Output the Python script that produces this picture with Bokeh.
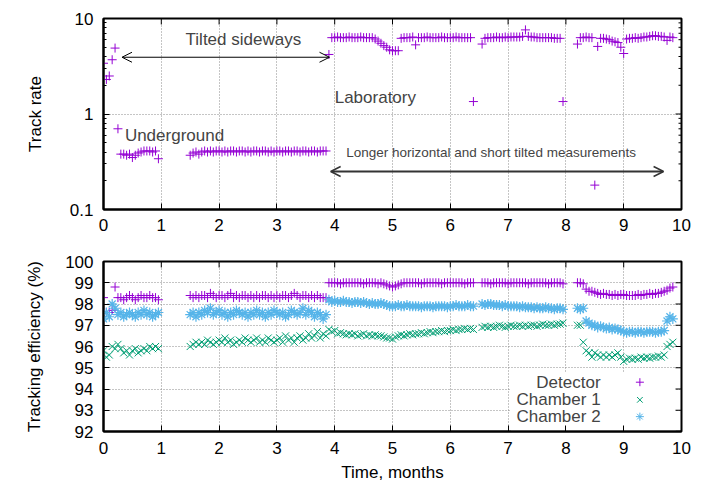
import math
from bokeh.plotting import figure
from bokeh.layouts import column
from bokeh.models import (Range1d, FixedTicker, Label, Arrow, OpenHead, BoxAnnotation,
                          ColumnDataSource, CustomJSTickFormatter)
from bokeh.embed import file_html
from bokeh.resources import INLINE

# ---------------- data ----------------
seg_starts = [0.00, 1.50, 3.90, 6.55, 8.20]
seg_step = 0.05

rate_a = [3.4, 2.3, 2.5, 3.7, 4.9, 0.70, 0.38, 0.38, 0.37, 0.38,
          0.35, 0.37, 0.39, 0.40, 0.41, 0.41, 0.41, 0.40, 0.41, 0.34]
rate_b = [0.37, 0.39, 0.40, 0.38, 0.40, 0.41, 0.40, 0.41, 0.40, 0.41,
          0.41, 0.40, 0.41, 0.40, 0.41, 0.41, 0.40, 0.41, 0.41, 0.40,
          0.41, 0.40, 0.41, 0.41, 0.40, 0.41, 0.41, 0.40, 0.41, 0.40,
          0.41, 0.41, 0.40, 0.41, 0.41, 0.40, 0.41, 0.41, 0.40, 0.41,
          0.41, 0.40, 0.41, 0.41, 0.40, 0.41, 0.41, 0.41]
rate_c = [4.2, 6.3, 6.3, 6.4, 6.3, 6.3, 6.3, 6.4, 6.3, 6.3,
          6.3, 6.4, 6.3, 6.3, 6.3, 6.3, 6.1, 5.8, 5.5, 5.2,
          5.0, 4.7, 4.6, 4.6, 4.6, 6.2, 6.3, 6.3, 6.3, 6.4,
          5.3, 6.3, 6.3, 6.3, 6.4, 6.3, 6.3, 6.3, 6.3, 6.4,
          6.3, 6.3, 6.3, 6.3, 6.4, 6.3, 6.3, 6.3, 6.3, 6.3,
          1.35]
rate_d = [5.4, 6.2, 6.3, 6.3, 6.3, 6.4, 6.3, 6.3, 6.4, 6.3,
          6.4, 6.4, 6.4, 6.4, 6.5, 7.6, 6.5, 6.4, 6.4, 6.3,
          6.3, 6.3, 6.3, 6.3, 6.3, 6.2, 6.2, 6.2, 1.35]
rate_e = [5.4, 6.3, 6.3, 6.4, 6.3, 6.3, 0.18, 5.1, 6.2, 6.2,
          6.1, 6.0, 5.8, 5.7, 5.6, 5.0, 4.3, 6.1, 6.2, 6.2,
          6.3, 6.2, 6.3, 6.4, 6.4, 6.5, 6.6, 6.6, 6.5, 6.5,
          6.4, 5.9, 6.4, 6.3]

det_a = [98.3, 97.6, 97.6, 97.7, 98.8, 98.3, 98.3, 98.2, 98.3, 98.4,
         98.3, 98.2, 98.3, 98.4, 98.3, 98.3, 98.4, 98.3, 98.3, 98.2]
det_b = [98.4, 98.3, 98.4, 98.3, 98.4, 98.4, 98.3, 98.5, 98.4, 98.3,
         98.4, 98.4, 98.3, 98.4, 98.5, 98.3, 98.4, 98.3, 98.4, 98.4,
         98.3, 98.4, 98.3, 98.4, 98.3, 98.4, 98.4, 98.3, 98.4, 98.3,
         98.4, 98.3, 98.4, 98.4, 98.3, 98.4, 98.5, 98.4, 98.3, 98.4,
         98.4, 98.3, 98.4, 98.3, 98.4, 98.3, 98.3, 98.3]
det_c = [99.0, 99.0, 99.0, 99.0, 98.95, 99.0, 99.0, 99.0, 99.0, 99.0,
         99.0, 99.0, 98.95, 99.0, 99.0, 99.0, 99.0, 98.95, 99.0, 98.95,
         98.9, 98.85, 98.8, 98.85, 98.9, 98.95, 99.0, 99.0, 99.0, 99.0,
         99.0, 99.0, 98.95, 99.0, 99.0, 99.0, 99.0, 99.0, 99.0, 98.95,
         99.0, 99.0, 99.0, 99.0, 99.0, 99.0, 99.0, 98.95, 99.0, 99.0,
         99.0]
det_d = [99.0, 99.0, 99.0, 98.95, 99.0, 99.0, 99.0, 99.0, 99.0, 98.95,
         99.0, 99.0, 99.0, 99.0, 99.0, 99.0, 98.95, 99.0, 99.0, 99.0,
         99.0, 99.0, 99.0, 98.95, 99.0, 99.0, 99.0, 99.0, 98.95]
det_e = [99.0, 99.0, 98.95, 98.7, 98.6, 98.6, 98.55, 98.5, 98.45, 98.5,
         98.45, 98.45, 98.4, 98.45, 98.4, 98.45, 98.45, 98.4, 98.4, 98.4,
         98.4, 98.45, 98.4, 98.45, 98.45, 98.5, 98.45, 98.5, 98.5, 98.55,
         98.6, 98.65, 98.75, 98.8]

ch1_a = [95.8, 95.5, 95.6, 96.0, 95.9, 96.1, 95.9, 95.7, 95.8, 95.6,
         95.8, 95.9, 95.7, 95.8, 95.9, 95.8, 96.0, 95.9, 96.0, 95.9]
ch1_b = [96.0, 96.1, 96.2, 96.1, 96.2, 96.1, 96.3, 96.2, 96.1, 96.2,
         96.3, 96.2, 96.4, 96.2, 96.3, 96.1, 96.2, 96.3, 96.2, 96.4,
         96.3, 96.2, 96.3, 96.4, 96.2, 96.3, 96.2, 96.4, 96.3, 96.2,
         96.3, 96.4, 96.2, 96.5, 96.3, 96.4, 96.2, 96.4, 96.5, 96.3,
         96.4, 96.6, 96.4, 96.5, 96.7, 96.4, 96.6, 96.5]
ch1_c = [96.8, 96.7, 96.75, 96.6, 96.65, 96.6, 96.55, 96.6, 96.55, 96.6,
         96.5, 96.55, 96.6, 96.5, 96.55, 96.5, 96.55, 96.5, 96.5, 96.45,
         96.4, 96.4, 96.35, 96.45, 96.5, 96.55, 96.5, 96.55, 96.6, 96.55,
         96.6, 96.6, 96.65, 96.6, 96.65, 96.7, 96.65, 96.7, 96.7, 96.75,
         96.7, 96.75, 96.75, 96.8, 96.75, 96.8, 96.8, 96.85, 96.8, 96.85,
         96.8]
ch1_d = [96.9, 96.95, 96.9, 96.95, 96.9, 96.95, 97.0, 96.95, 96.9, 96.95,
         97.0, 96.95, 96.95, 97.0, 96.95, 97.0, 96.95, 97.0, 97.0, 96.95,
         97.0, 97.05, 97.0, 97.0, 97.05, 97.0, 97.05, 97.05, 97.1]
ch1_e = [97.0, 97.0, 96.2, 95.8, 95.7, 95.5, 95.7, 95.6, 95.5, 95.6,
         95.5, 95.6, 95.5, 95.6, 95.7, 95.5, 95.3, 95.4, 95.45, 95.4,
         95.45, 95.4, 95.5, 95.45, 95.5, 95.45, 95.5, 95.5, 95.55, 95.5,
         95.6, 96.0, 96.1, 96.2]

ch2_a = [97.3, 97.6, 97.4, 98.0, 97.8, 97.5, 97.6, 97.4, 97.5, 97.6,
         97.5, 97.4, 97.6, 97.5, 97.7, 97.5, 97.6, 97.4, 97.5, 97.6]
ch2_b = [97.5, 97.6, 97.4, 97.6, 97.5, 97.7, 97.6, 97.8, 97.5, 97.6,
         97.7, 97.5, 97.6, 97.4, 97.6, 97.5, 97.7, 97.6, 97.5, 97.6,
         97.4, 97.6, 97.5, 97.7, 97.5, 97.6, 97.4, 97.6, 97.5, 97.7,
         97.6, 97.5, 97.6, 97.4, 97.5, 97.7, 97.6, 97.5, 97.6, 97.8,
         97.5, 97.7, 97.6, 97.4, 97.6, 97.5, 97.3, 97.5]
ch2_c = [98.2, 98.1, 98.15, 98.1, 98.1, 98.15, 98.1, 98.1, 98.05, 98.1,
         98.1, 98.05, 98.1, 98.05, 98.0, 98.05, 98.0, 98.0, 98.05, 98.0,
         97.95, 97.9, 97.9, 97.9, 97.95, 97.9, 97.9, 97.95, 97.9, 97.9,
         97.9, 97.9, 97.85, 97.9, 97.9, 97.9, 97.85, 97.9, 97.9, 97.9,
         97.9, 97.85, 97.9, 97.9, 97.95, 97.9, 97.9, 97.9, 97.95, 97.9,
         97.9]
ch2_d = [98.0, 97.95, 98.0, 98.0, 97.95, 97.95, 97.95, 97.9, 97.95, 97.9,
         97.9, 97.9, 97.9, 97.85, 97.9, 97.85, 97.85, 97.85, 97.8, 97.85,
         97.8, 97.8, 97.85, 97.8, 97.8, 97.75, 97.8, 97.8, 97.75]
ch2_e = [97.8, 97.75, 97.8, 97.2, 97.1, 97.0, 97.0, 96.9, 96.95, 96.9,
         96.85, 96.9, 96.8, 96.85, 96.8, 96.75, 96.7, 96.65, 96.7, 96.7,
         96.65, 96.7, 96.7, 96.65, 96.7, 96.7, 96.7, 96.65, 96.7, 96.7,
         96.75, 97.2, 97.4, 97.3]

x_ticks = [0, 1, 2, 3, 4, 5, 6, 7, 8, 9, 10]
rate_ticks = [0.1, 1, 10]
rate_minor = [0.2, 0.3, 0.4, 0.5, 0.6, 0.7, 0.8, 0.9, 2, 3, 4, 5, 6, 7, 8, 9]
eff_ticks = [92, 93, 94, 95, 96, 97, 98, 99, 100]
legend_names = ["Detector", "Chamber 1", "Chamber 2"]

# ---------------- assemble ----------------
rate_segs = [rate_a, rate_b, rate_c, rate_d, rate_e]
t = []
for s, seg in zip(seg_starts, rate_segs):
    t += [round(s + seg_step * i, 3) for i in range(len(seg))]
rate = sum(rate_segs, [])
det = det_a + det_b + det_c + det_d + det_e
ch1 = ch1_a + ch1_b + ch1_c + ch1_d + ch1_e
ch2 = ch2_a + ch2_b + ch2_c + ch2_d + ch2_e
src = ColumnDataSource(dict(t=t, rate=rate, det=det, ch1=ch1, ch2=ch2))

PURPLE = "#9400d3"
GREEN = "#009e73"
BLUE = "#56b4e9"
FONT = "Liberation Sans"
FS = "17px"


def style_axis(ax):
    ax.axis_line_width = 2
    ax.axis_line_color = "black"
    ax.major_tick_in = 6
    ax.major_tick_out = 0
    ax.minor_tick_in = 3
    ax.minor_tick_out = 0
    ax.major_tick_line_color = "black"
    ax.minor_tick_line_color = "black"
    ax.major_label_text_font = FONT
    ax.major_label_text_font_size = FS
    ax.major_label_text_color = "black"
    ax.axis_label_text_font = FONT
    ax.axis_label_text_font_style = "normal"
    ax.axis_label_text_font_size = FS
    ax.axis_label_text_color = "black"


def style_fig(p):
    p.outline_line_color = "black"
    p.outline_line_width = 2
    p.outline_line_alpha = 1
    p.background_fill_color = "white"
    p.border_fill_color = "white"
    p.grid.grid_line_color = "#8a8a8a"
    p.grid.grid_line_dash = "1 2"
    p.grid.grid_line_width = 1


def mirror_ticks(p, xr, yr, xmaj, ymaj, ymin=None):
    # ticks on the top and right edges, pointing inwards (pixel lengths)
    p.ray(x=xmaj, y=[yr] * len(xmaj), length=6, length_units="screen",
          angle=-math.pi / 2, line_color="black", line_width=1)
    p.ray(x=[xr] * len(ymaj), y=ymaj, length=6, length_units="screen",
          angle=math.pi, line_color="black", line_width=1)
    if ymin:
        p.ray(x=[xr] * len(ymin), y=ymin, length=3, length_units="screen",
              angle=math.pi, line_color="black", line_width=1)


# ---------------- top plot ----------------
p1 = figure(width=699, height=240, y_axis_type="log",
            x_range=Range1d(0, 10), y_range=Range1d(0.1, 10),
            output_backend="svg", toolbar_location=None,
            min_border_left=103, min_border_right=18,
            min_border_top=18, min_border_bottom=31)
style_fig(p1)
xt = FixedTicker(ticks=x_ticks)
yt1 = FixedTicker(ticks=rate_ticks, minor_ticks=rate_minor)
p1.xaxis.ticker = xt
p1.yaxis.ticker = yt1
p1.xgrid.ticker = xt
p1.ygrid.ticker = yt1
p1.yaxis.formatter = CustomJSTickFormatter(code="return String(tick);")
p1.yaxis.axis_label = "Track rate"
for ax in p1.xaxis + p1.yaxis:
    style_axis(ax)
p1.xaxis.major_label_standoff = 9
p1.yaxis.major_label_standoff = 10
p1.yaxis.axis_label_standoff = 22
mirror_ticks(p1, 10, 10, x_ticks, rate_ticks, rate_minor)

p1.scatter("t", "rate", source=src, marker="cross", size=9,
           line_color=PURPLE, line_width=1)

p1.add_layout(Label(x=2.42, y=5.98, text="Tilted sideways", text_align="center",
                    text_baseline="middle", text_font=FONT, text_font_size=FS))
p1.add_layout(Label(x=4.0, y=1.48, text="Laboratory", text_align="left",
                    text_baseline="middle", text_font=FONT, text_font_size=FS))
p1.add_layout(Label(x=0.37, y=0.595, text="Underground", text_align="left",
                    text_baseline="middle", text_font=FONT, text_font_size=FS))
p1.add_layout(Label(x=4.2, y=0.398, text="Longer horizontal and short tilted measurements",
                    text_align="left", text_baseline="middle", text_font=FONT,
                    text_font_size="13.5px"))
p1.add_layout(Arrow(start=OpenHead(size=10, line_width=1, line_color="black"),
                    end=OpenHead(size=10, line_width=1, line_color="black"),
                    x_start=0.32, y_start=3.93, x_end=3.91, y_end=3.93,
                    line_width=1, line_color="black"))
p1.add_layout(Arrow(start=OpenHead(size=10, line_width=1.5, line_color="#333333"),
                    end=OpenHead(size=10, line_width=1.5, line_color="#333333"),
                    x_start=3.93, y_start=0.25, x_end=9.69, y_end=0.25,
                    line_width=2, line_color="#333333"))

# ---------------- bottom plot ----------------
p2 = figure(width=699, height=244,
            x_range=Range1d(0, 10), y_range=Range1d(92, 100),
            output_backend="svg", toolbar_location=None,
            min_border_left=103, min_border_right=18,
            min_border_top=21, min_border_bottom=53)
style_fig(p2)
yt2 = FixedTicker(ticks=eff_ticks)
p2.xaxis.ticker = xt
p2.yaxis.ticker = yt2
p2.xgrid.ticker = xt
p2.ygrid.ticker = yt2
p2.xaxis.axis_label = "Time, months"
p2.yaxis.axis_label = "Tracking efficiency (%)"
for ax in p2.xaxis + p2.yaxis:
    style_axis(ax)
p2.xaxis.major_label_standoff = 10
p2.xaxis.axis_label_standoff = 6
p2.yaxis.major_label_standoff = 10
p2.yaxis.axis_label_standoff = 18
mirror_ticks(p2, 10, 100, x_ticks, eff_ticks)

p2.scatter("t", "det", source=src, marker="cross", size=9,
           line_color=PURPLE, line_width=1)
p2.scatter("t", "ch1", source=src, marker="x", size=10,
           line_color=GREEN, line_width=1)
p2.scatter("t", "ch2", source=src, marker="asterisk", size=10,
           line_color=BLUE, line_width=1.2)

# legend (opaque key box, text left of sample)
p2.add_layout(BoxAnnotation(left=7.05, right=9.9, bottom=92.06, top=94.8,
                            fill_color="white", fill_alpha=1, line_alpha=0,
                            level="underlay"))
leg_y = [94.32, 93.49, 92.7]
leg_marker = ["cross", "x", "asterisk"]
leg_color = [PURPLE, GREEN, BLUE]
for name, yy in zip(legend_names, leg_y):
    p2.add_layout(Label(x=8.6, y=yy, text=name, text_align="right",
                        text_baseline="middle", text_font=FONT, text_font_size=FS))
leg_src = ColumnDataSource(dict(x=[9.28, 9.28, 9.28], y=leg_y, m=leg_marker, c=leg_color))
p2.scatter("x", "y", source=leg_src, marker="m", size=8, line_color="c", line_width=1)

layout = column(p1, p2, spacing=0)
open("out.html", "w").write(file_html(layout, INLINE))
